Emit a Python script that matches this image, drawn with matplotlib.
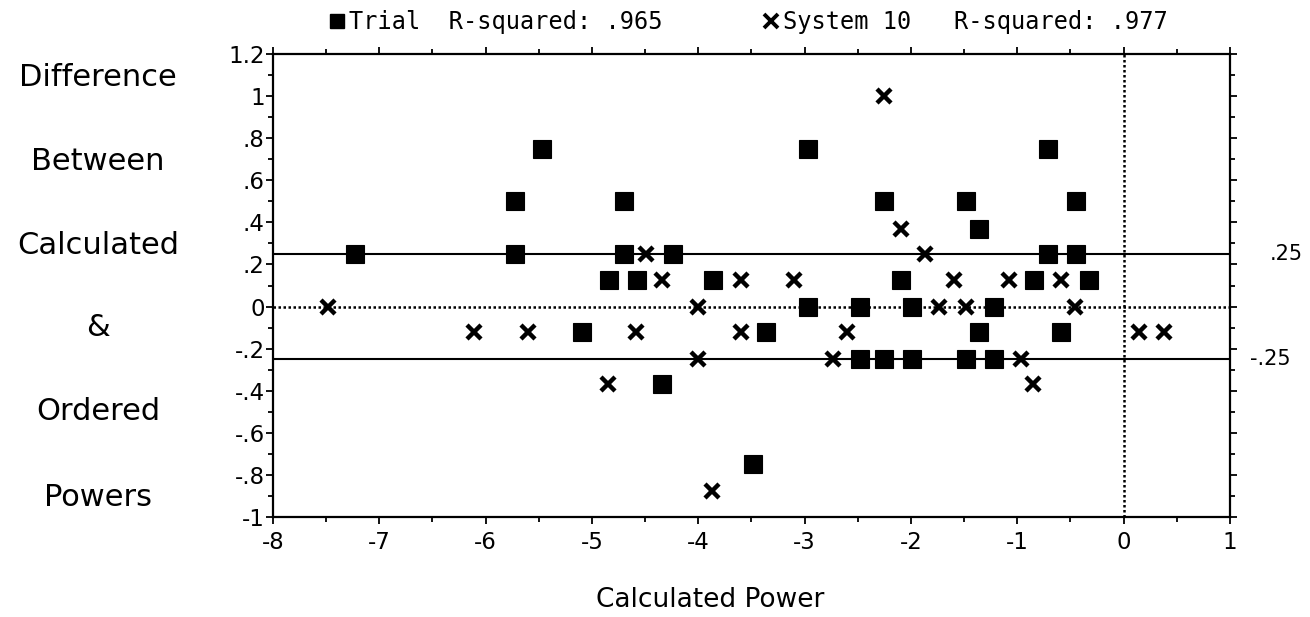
import matplotlib
matplotlib.use("Agg")
import matplotlib.pyplot as plt
import matplotlib.transforms as mtransforms
from matplotlib.lines import Line2D
import numpy as np

# ---------------- data ----------------
trial_x = [-7.23, -5.72, -5.72, -5.47, -5.09, -4.84, -4.70, -4.70, -4.58, -4.34,
           -4.24, -3.86, -3.49, -3.36, -2.97, -2.97, -2.48, -2.48, -2.25, -2.25,
           -2.09, -1.99, -1.99, -1.48, -1.48, -1.36, -1.36, -1.22, -1.22, -0.84,
           -0.71, -0.71, -0.59, -0.45, -0.45, -0.33]
trial_y = [0.25, 0.5, 0.25, 0.75, -0.12, 0.125, 0.5, 0.25, 0.125, -0.37,
           0.25, 0.125, -0.75, -0.12, 0.75, 0, 0, -0.25, 0.5, -0.25,
           0.125, 0, -0.25, 0.5, -0.25, 0.37, -0.12, 0, -0.25, 0.125,
           0.75, 0.25, -0.12, 0.5, 0.25, 0.125]

system_x = [-7.48, -6.11, -5.60, -4.85, -4.59, -4.49, -4.34, -4.00, -4.00, -3.87,
            -3.60, -3.60, -3.10, -2.73, -2.60, -2.25, -2.09, -1.87, -1.74, -1.60,
            -1.48, -1.08, -0.97, -0.85, -0.59, -0.46, 0.14, 0.38]
system_y = [0, -0.12, -0.12, -0.37, -0.12, 0.25, 0.125, 0, -0.25, -0.875,
            0.125, -0.12, 0.125, -0.25, -0.12, 1.0, 0.37, 0.25, 0, 0.125,
            0, 0.125, -0.25, -0.37, 0.125, 0, -0.12, -0.12]

x_ticks = [-8, -7, -6, -5, -4, -3, -2, -1, 0, 1]
x_tick_labels = ["-8", "-7", "-6", "-5", "-4", "-3", "-2", "-1", "0", "1"]
y_ticks = [1.2, 1.0, 0.8, 0.6, 0.4, 0.2, 0.0, -0.2, -0.4, -0.6, -0.8, -1.0]
y_tick_labels = ["1.2", "1", ".8", ".6", ".4", ".2", "0", "-.2", "-.4", "-.6", "-.8", "-1"]
band_values = [0.25, -0.25]
band_labels = [".25", "-.25"]
ylabel_words = ["Difference", "Between", "Calculated", "&", "Ordered", "Powers"]
legend_labels = ["Trial  R-squared: .965", "System 10   R-squared: .977"]
xlabel_text = "Calculated Power"

# ---------------- figure ----------------
W, H = 1310, 617
fig = plt.figure(figsize=(W / 100, H / 100), dpi=100)
fig.patch.set_facecolor("white")

left_px, right_px, top_px, bottom_px = 273, 1230, 54, 517
ax = fig.add_axes([left_px / W, 1 - bottom_px / H,
                   (right_px - left_px) / W, (bottom_px - top_px) / H])
ax.set_xlim(-8, 1)
ax.set_ylim(-1, 1.2)

for sp in ax.spines.values():
    sp.set_linewidth(1.6)
    sp.set_color("black")

# reference lines
for v in band_values:
    ax.axhline(v, color="black", lw=1.5, zorder=1)
ax.axhline(0, color="black", lw=1.8, ls=(0, (1, 1.0)), zorder=1)
ax.axvline(0, color="black", lw=1.8, ls=(0, (1, 1.0)), zorder=1)

# data
ax.plot(trial_x, trial_y, ls="none", marker="s", ms=12.5, mfc="black",
        mec="black", mew=0.8, zorder=3)
ax.plot(system_x, system_y, ls="none", marker="x", ms=10.5, mec="black",
        mew=3.2, zorder=4)

# ticks
ax.set_xticks(x_ticks)
ax.set_xticklabels(x_tick_labels)
ax.set_xticks(np.arange(-7.5, 1, 1.0), minor=True)
ax.set_yticks(y_ticks)
ax.set_yticklabels(y_tick_labels)
ax.set_yticks(np.arange(-0.9, 1.2, 0.2), minor=True)
ax.tick_params(which="both", direction="out", top=True, right=True,
               labeltop=False, labelright=False, width=1.3, colors="black")
ax.tick_params(which="major", length=5)
ax.tick_params(which="minor", length=3.5)
ax.tick_params(axis="x", which="major", labelsize=16.5, pad=5)
ax.tick_params(axis="y", which="major", labelsize=16.5, pad=1)

# right-side band labels
trans = mtransforms.blended_transform_factory(ax.transAxes, ax.transData)
ax.text(1.042, band_values[0], band_labels[0], transform=trans, ha="left",
        va="center", fontsize=15)
ax.text(1.021, band_values[1], band_labels[1], transform=trans, ha="left",
        va="center", fontsize=15)

# y label (stacked words)
word_y_px = [78, 162, 245, 328, 412, 497]
for word, ypx in zip(ylabel_words, word_y_px):
    fig.text(98 / W, 1 - ypx / H, word, ha="center", va="center", fontsize=22)

# x label
fig.text(710 / W, 1 - 600 / H, xlabel_text, ha="center", va="center", fontsize=19)

# legend
handles = [Line2D([], [], ls="none", marker="s", ms=9.5, mfc="black", mec="black"),
           Line2D([], [], ls="none", marker="x", ms=9.5, mec="black", mew=2.8)]
fig.legend(handles, legend_labels, ncol=2, loc="center left",
           bbox_to_anchor=(330 / W, 1 - 22 / H), frameon=False,
           prop={"family": "DejaVu Sans Mono", "size": 17},
           handlelength=0.6, handletextpad=0.2, columnspacing=4.3,
           borderpad=0, borderaxespad=0)

fig.savefig("out.png", dpi=100, facecolor="white")
